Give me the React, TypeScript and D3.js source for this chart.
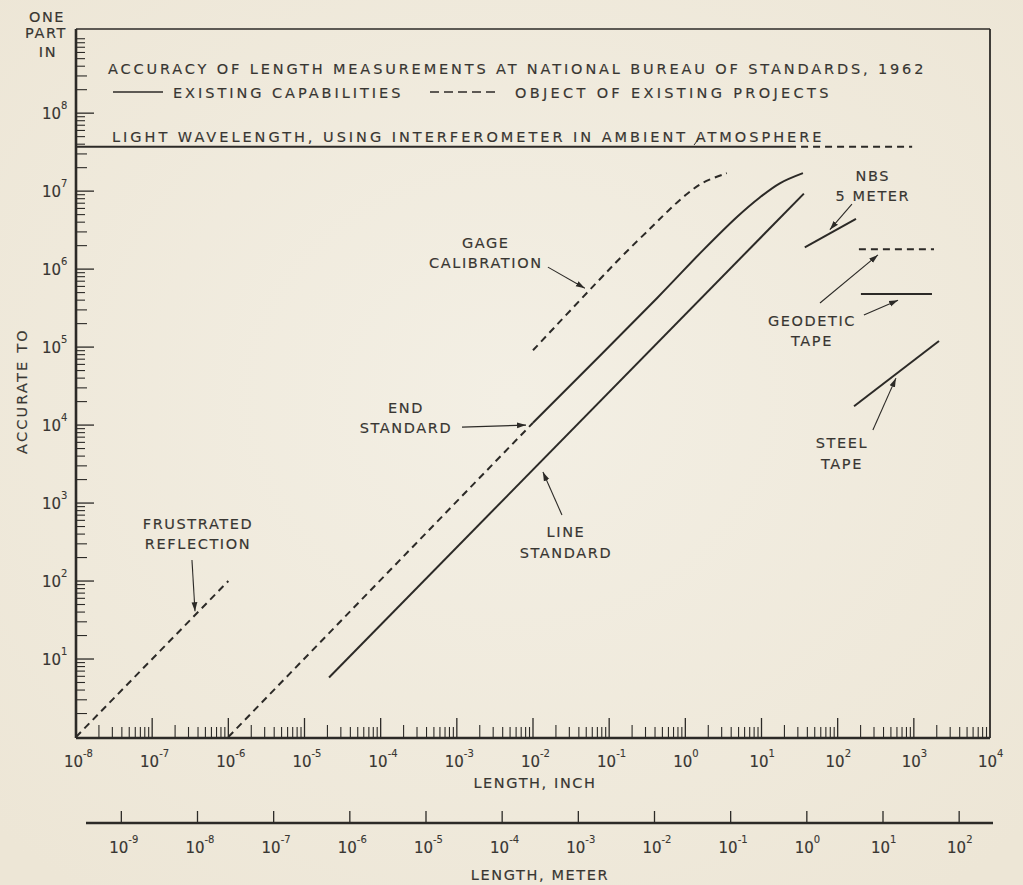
import React from 'react';
import * as d3 from 'd3';

type Pt = [number, number];

// ---- axis decades ----
const inchExponents = [-8, -7, -6, -5, -4, -3, -2, -1, 0, 1, 2, 3, 4];
const meterExponents = [-9, -8, -7, -6, -5, -4, -3, -2, -1, 0, 1, 2];
const accuracyExponents = [1, 2, 3, 4, 5, 6, 7, 8];
const INCH_PER_METER = 39.37;

// ---- series: [length in inch, accuracy "one part in"] ----
const lightWavelength: Pt[] = [[1e-8, 3.7e7], [23, 3.7e7]];
const lightWavelengthObject: Pt[] = [[23, 3.7e7], [950, 3.7e7]];
const frustratedReflection: Pt[] = [[1e-8, 1], [1e-6, 100]];
const endStandardObject: Pt[] = [[1e-6, 1], [1e-2, 1.07e4]];
const endStandard: Pt[] = [[1e-2, 1.07e4], [0.43, 4.3e5], [1.7, 1.74e6], [4.8, 4.7e6], [9.5, 8.3e6], [17.4, 1.26e7], [35, 1.7e7]];
const gageCalibration: Pt[] = [[1e-2, 9.1e4], [0.139, 1.38e6], [0.376, 3.6e6], [0.63, 5.9e6], [1.05, 9.2e6], [1.7, 1.28e7], [3.5, 1.7e7]];
const lineStandard: Pt[] = [[2.1e-5, 5.8], [36, 9.3e6]];
const nbs5Meter: Pt[] = [[37, 1.9e6], [174, 4.4e6]];
const geodeticTapeObject: Pt[] = [[190, 1.8e6], [1840, 1.8e6]];
const geodeticTape: Pt[] = [[202, 4.8e5], [1730, 4.8e5]];
const steelTape: Pt[] = [[164, 1.74e4], [2140, 1.2e5]];

const series = [
  { data: lightWavelength, dashed: false },
  { data: lightWavelengthObject, dashed: true },
  { data: frustratedReflection, dashed: true },
  { data: endStandardObject, dashed: true },
  { data: endStandard, dashed: false },
  { data: gageCalibration, dashed: true },
  { data: lineStandard, dashed: false },
  { data: nbs5Meter, dashed: false },
  { data: geodeticTapeObject, dashed: true },
  { data: geodeticTape, dashed: false },
  { data: steelTape, dashed: false },
];

// ---- annotations (anchored in data space) ----
const labels = [
  { lines: ['FRUSTRATED', 'REFLECTION'], at: [4.0e-7, 465] as Pt, arrows: [[[3.33e-7, 186], [3.65e-7, 41]]] as Pt[][] },
  { lines: ['END', 'STANDARD'], at: [2.15e-4, 1.43e4] as Pt, arrows: [[[1.17e-3, 9.4e3], [8.1e-3, 1.0e4]]] as Pt[][] },
  { lines: ['GAGE', 'CALIBRATION'], at: [2.4e-3, 1.87e6] as Pt, arrows: [[[1.57e-2, 1.06e6], [4.8e-2, 5.7e5]]] as Pt[][] },
  { lines: ['LINE', 'STANDARD'], at: [2.71e-2, 367] as Pt, arrows: [[[2.4e-2, 703], [1.35e-2, 2500]]] as Pt[][] },
  { lines: ['NBS', '5 METER'], at: [290, 1.35e7] as Pt, arrows: [[[154, 6.8e6], [79, 3.2e6]]] as Pt[][] },
  { lines: ['GEODETIC', 'TAPE'], at: [46, 1.87e5] as Pt, arrows: [[[58.6, 3.68e5], [338, 1.52e6]], [[221, 2.58e5], [620, 4.0e5]]] as Pt[][] },
  { lines: ['STEEL', 'TAPE'], at: [114, 5.08e3] as Pt, arrows: [[[290, 8.65e3], [582, 4.0e4]]] as Pt[][] },
];

const TITLE = 'ACCURACY OF LENGTH MEASUREMENTS AT NATIONAL BUREAU OF STANDARDS, 1962';
const LEGEND_SOLID = 'EXISTING CAPABILITIES';
const LEGEND_DASHED = 'OBJECT OF EXISTING PROJECTS';
const LIGHT_LABEL = 'LIGHT WAVELENGTH, USING INTERFEROMETER IN AMBIENT ATMOSPHERE';

const W = 1023;
const H = 885;
const INK = '#2c2a27';
const TEXT = '#383632';
const FONT = "'DejaVu Sans', Verdana, sans-serif";

const sup = (e: number) => (e < 0 ? `-${-e}` : `${e}`);

const App: React.FC = () => {
  const x = d3.scaleLog().domain([1e-8, 1e4]).range([76, 990]);
  const y = d3.scaleLog().domain([1, 1.2e9]).range([737, 29]);
  const xm = d3.scaleLog()
    .domain([1e-8 / INCH_PER_METER, 1e4 / INCH_PER_METER])
    .range([76, 990]);

  const [left, right] = x.range();
  const [bottom, top] = y.range();
  const meterY = 823;

  const line = d3.line<Pt>()
    .curve(d3.curveCatmullRom.alpha(0.5))
    .x(d => x(d[0]))
    .y(d => y(d[1]));

  // minor ticks, 2..9 per decade
  const xMinor: { v: number; m: number }[] = [];
  inchExponents.slice(0, -1).forEach(e => {
    for (let m = 2; m <= 9; m++) xMinor.push({ v: m * Math.pow(10, e), m });
  });
  const yMinor: { v: number; m: number }[] = [];
  [0, ...accuracyExponents].forEach(e => {
    for (let m = 2; m <= 9; m++) {
      const v = m * Math.pow(10, e);
      if (y(v) > top + 4) yMinor.push({ v, m });
    }
  });

  const txt = {
    fontFamily: FONT, fill: TEXT, fontSize: 14.5, letterSpacing: 1.6,
    stroke: TEXT, strokeWidth: 0.15,
  } as const;
  const expStyle = { ...txt, fontSize: 10, letterSpacing: 0, strokeWidth: 0.1 };

  const power = (cx: number, base: number, e: number, key: string) => (
    <g key={key}>
      <text x={cx} y={base} textAnchor="end" style={{ ...txt, fontSize: 15, letterSpacing: 0 }}>10</text>
      <text x={cx} y={base - 10} style={expStyle}>{sup(e)}</text>
    </g>
  );

  return (
    <svg width={W} height={H} style={{ position: 'absolute', left: 0, top: 0 }}>
      <defs>
        <marker id="arrow" markerUnits="userSpaceOnUse" markerWidth={10} markerHeight={7}
          refX={9} refY={3.5} orient="auto">
          <path d="M0,0.6 L9,3.5 L0,6.4 Z" fill={INK} />
        </marker>
        <radialGradient id="paper" cx="50%" cy="45%" r="70%">
          <stop offset="0%" stopColor="#f3efe4" />
          <stop offset="100%" stopColor="#ede6d6" />
        </radialGradient>
      </defs>
      <rect width={W} height={H} fill="url(#paper)" />

      {/* frame */}
      <line x1={left} x2={right} y1={top} y2={top} stroke={INK} strokeWidth={1.4} />
      <line x1={right} x2={right} y1={top} y2={bottom + 1} stroke={INK} strokeWidth={1.8} />
      <line x1={left} x2={left} y1={top} y2={bottom + 1} stroke={INK} strokeWidth={2.6} />
      <line x1={left} x2={right} y1={bottom + 1} y2={bottom + 1} stroke={INK} strokeWidth={2.6} />

      {/* y ticks */}
      {accuracyExponents.map(e => (
        <line key={`ym${e}`} x1={left} x2={left + 18} y1={y(Math.pow(10, e))} y2={y(Math.pow(10, e))}
          stroke={INK} strokeWidth={1.3} />
      ))}
      {yMinor.map(t => (
        <line key={`yn${t.v}`} x1={left} x2={left + (t.m <= 3 ? 11 : 9)} y1={y(t.v)} y2={y(t.v)}
          stroke={INK} strokeWidth={1.1} />
      ))}
      {accuracyExponents.map(e => power(61, y(Math.pow(10, e)) + 6, e, `yl${e}`))}

      {/* x ticks (inch) */}
      {inchExponents.slice(1, -1).map(e => (
        <line key={`xm${e}`} x1={x(Math.pow(10, e))} x2={x(Math.pow(10, e))} y1={bottom + 1} y2={bottom - 19}
          stroke={INK} strokeWidth={1.3} />
      ))}
      {xMinor.map(t => (
        <line key={`xn${t.v}`} x1={x(t.v)} x2={x(t.v)} y1={bottom + 1} y2={bottom - (t.m === 2 ? 12 : 10)}
          stroke={INK} strokeWidth={1.1} />
      ))}
      {inchExponents.map(e => power(x(Math.pow(10, e)) + 7, 767, e, `xl${e}`))}
      <text x={535} y={788} textAnchor="middle" style={txt}>LENGTH, INCH</text>

      {/* meter axis */}
      <line x1={86} x2={993} y1={meterY} y2={meterY} stroke={INK} strokeWidth={2.6} />
      {meterExponents.map(e => (
        <g key={`mt${e}`}>
          <line x1={xm(Math.pow(10, e))} x2={xm(Math.pow(10, e))} y1={meterY} y2={meterY - 12}
            stroke={INK} strokeWidth={1.3} />
          {power(xm(Math.pow(10, e)) + 7, 853, e, `ml${e}`)}
        </g>
      ))}
      <text x={540} y={880} textAnchor="middle" style={txt}>LENGTH, METER</text>

      {/* axis titles */}
      <g textAnchor="middle">
        <text x={47} y={22} style={txt}>ONE</text>
        <text x={46} y={38} style={txt}>PART</text>
        <text x={48} y={57} style={txt}>IN</text>
      </g>
      <text transform="translate(27,391) rotate(-90)" textAnchor="middle" style={{ ...txt, letterSpacing: 2.2 }}>
        ACCURATE TO
      </text>

      {/* title & legend */}
      <text x={108} y={74} textLength={817} lengthAdjust="spacing" style={txt}>{TITLE}</text>
      <line x1={113} x2={163} y1={92} y2={92} stroke={INK} strokeWidth={1.6} />
      <text x={173} y={98} textLength={229} lengthAdjust="spacing" style={txt}>{LEGEND_SOLID}</text>
      <line x1={430} x2={497} y1={92} y2={92} stroke={INK} strokeWidth={1.6} strokeDasharray="9,5" />
      <text x={515} y={98} textLength={315} lengthAdjust="spacing" style={txt}>{LEGEND_DASHED}</text>
      <text x={112} y={142} textLength={711} lengthAdjust="spacing" style={txt}>{LIGHT_LABEL}</text>
      <line x1={x(1.3)} y1={y(3.9e7)} x2={x(1.5)} y2={y(4.7e7)} stroke={INK} strokeWidth={1} />

      {/* series */}
      {series.map((s, i) => (
        <path key={`s${i}`} d={line(s.data) ?? ''} fill="none" stroke={INK}
          strokeWidth={2} strokeDasharray={s.dashed ? '7,5' : undefined} strokeLinecap="butt" />
      ))}

      {/* annotations */}
      {labels.map((l, i) => (
        <g key={`a${i}`}>
          {l.lines.map((t, j) => (
            <text key={j} x={x(l.at[0])} y={y(l.at[1]) + j * 20.5} textAnchor="middle" style={txt}>{t}</text>
          ))}
          {l.arrows.map((a, j) => (
            <line key={`ar${j}`} x1={x(a[0][0])} y1={y(a[0][1])} x2={x(a[1][0])} y2={y(a[1][1])}
              stroke={INK} strokeWidth={1.1} markerEnd="url(#arrow)" />
          ))}
        </g>
      ))}
    </svg>
  );
};

export default App;
